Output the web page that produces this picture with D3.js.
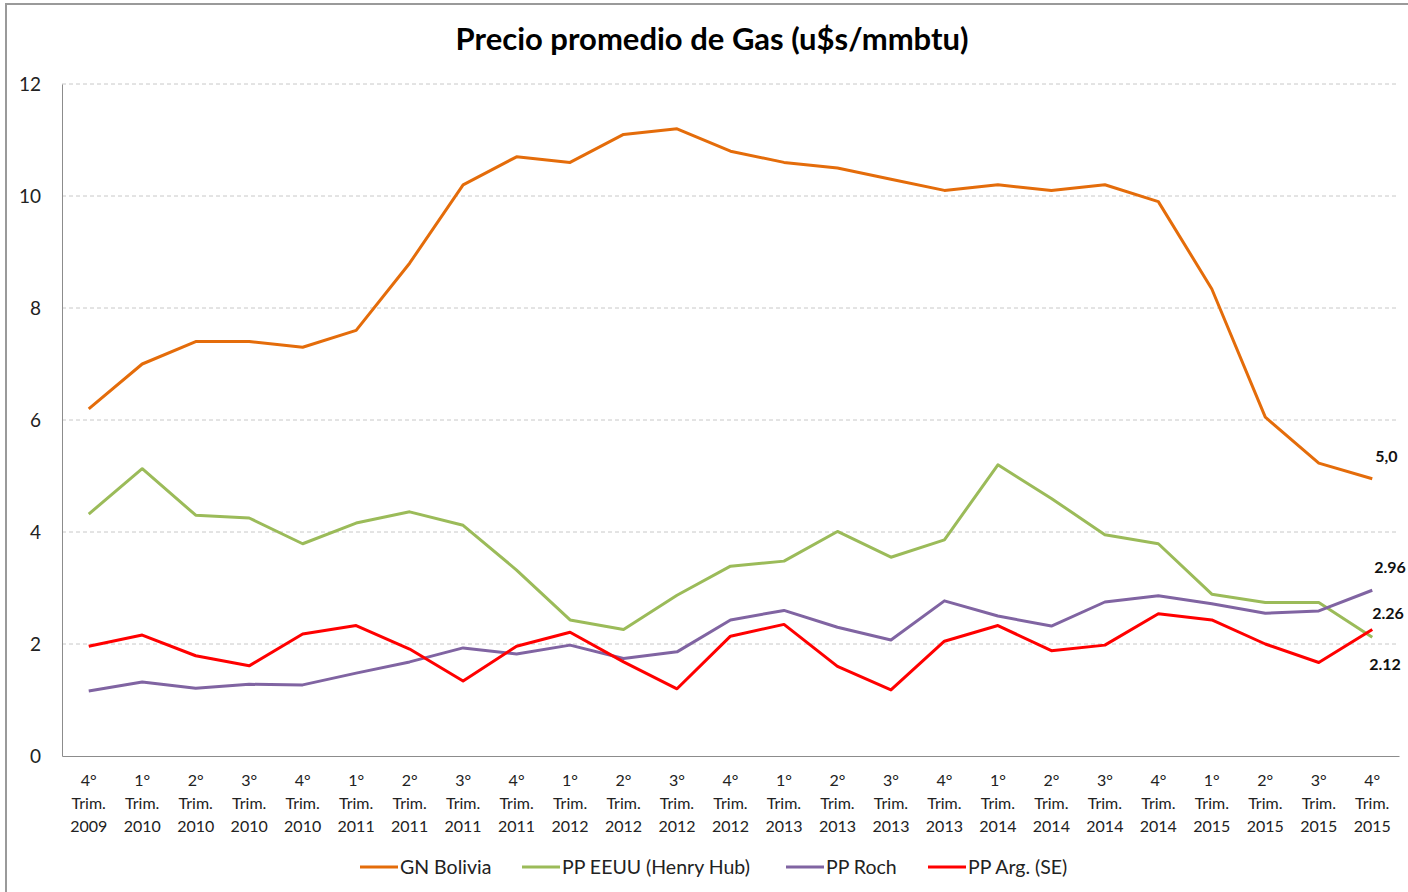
<!DOCTYPE html>
<html>
<head>
<meta charset="utf-8">
<script src="https://cdn.jsdelivr.net/npm/d3@7"></script>
<style>
  body { margin: 0; background: #fff; }
  svg { font-family: Lato, "Open Sans", sans-serif; }
</style>
</head>
<body>
<svg width="1408" height="892"></svg>
<script>
var quarters = ["4°","1°","2°","3°","4°","1°","2°","3°","4°","1°","2°","3°","4°","1°","2°","3°","4°","1°","2°","3°","4°","1°","2°","3°","4°"];
var years = ["2009","2010","2010","2010","2010","2011","2011","2011","2011","2012","2012","2012","2012","2013","2013","2013","2013","2014","2014","2014","2014","2015","2015","2015","2015"];
var categories = quarters.map(function(q, i) { return q + " Trim. " + years[i]; });

var gnBolivia = [6.2, 7.0, 7.4, 7.4, 7.3, 7.6, 8.8, 10.2, 10.7, 10.6, 11.1, 11.2, 10.8, 10.6, 10.5, 10.3, 10.1, 10.2, 10.1, 10.2, 9.9, 8.34, 6.05, 5.23, 4.95];
var ppEEUU = [4.32, 5.13, 4.30, 4.25, 3.79, 4.16, 4.36, 4.12, 3.32, 2.43, 2.26, 2.87, 3.39, 3.48, 4.01, 3.55, 3.86, 5.2, 4.6, 3.95, 3.79, 2.89, 2.74, 2.74, 2.12];
var ppRoch = [1.16, 1.32, 1.21, 1.28, 1.27, 1.48, 1.68, 1.93, 1.82, 1.98, 1.74, 1.86, 2.43, 2.60, 2.30, 2.07, 2.77, 2.50, 2.32, 2.75, 2.86, 2.72, 2.55, 2.59, 2.96];
var ppArg = [1.96, 2.16, 1.79, 1.61, 2.18, 2.33, 1.91, 1.34, 1.96, 2.21, 1.68, 1.20, 2.14, 2.35, 1.60, 1.18, 2.05, 2.33, 1.88, 1.98, 2.54, 2.43, 2.0, 1.67, 2.26];

var seriesNames = ["GN Bolivia", "PP EEUU (Henry Hub)", "PP Roch", "PP Arg. (SE)"];
var seriesColors = ["#E46C0A", "#9BBB59", "#8064A2", "#FF0000"];
var endLabels = ["5,0", "2.12", "2.96", "2.26"];
var yTicks = [0, 2, 4, 6, 8, 10, 12];

var series = [gnBolivia, ppEEUU, ppRoch, ppArg].map(function(vals, i) {
  return {name: seriesNames[i], color: seriesColors[i], label: endLabels[i], values: vals};
});

var svg = d3.select("svg");

// chart frame like the spreadsheet object
svg.append("rect")
    .attr("x", 6).attr("y", 4)
    .attr("width", 1420).attr("height", 900)
    .attr("fill", "#fff")
    .attr("stroke", "#9a9a9a")
    .attr("stroke-width", 2);

var plotLeft = 62, plotRight = 1399, plotTop = 84, plotBottom = 756;

var x = d3.scaleBand()
    .domain(categories)
    .range([plotLeft, plotRight]);

var y = d3.scaleLinear()
    .domain([0, 12])
    .range([plotBottom, plotTop]);

var cx = function(i) { return x(categories[i]) + x.bandwidth() / 2; };

// title
svg.append("text")
    .attr("x", 712).attr("y", 50)
    .attr("text-anchor", "middle")
    .attr("font-size", 31)
    .attr("font-weight", "bold")
    .text("Precio promedio de Gas (u$s/mmbtu)");

// gridlines
svg.append("g")
  .selectAll("line")
  .data(yTicks.filter(function(d) { return d > 0; }))
  .join("line")
    .attr("x1", plotLeft).attr("x2", plotRight)
    .attr("y1", function(d) { return y(d); })
    .attr("y2", function(d) { return y(d); })
    .attr("stroke", "#c8c8c8")
    .attr("stroke-dasharray", "4,3");

// y axis
var yAxis = svg.append("g")
    .attr("transform", "translate(" + plotLeft + ",0)")
    .call(d3.axisLeft(y).tickValues(yTicks).tickSize(0).tickPadding(21));
yAxis.select(".domain").attr("stroke", "#8c8c8c");
yAxis.selectAll("text").attr("font-size", 19).attr("fill", "#222").attr("font-family", "Lato, sans-serif");

// x axis
var xAxis = svg.append("g")
    .attr("transform", "translate(0," + plotBottom + ")")
    .call(d3.axisBottom(x).tickSize(0).tickFormat(""));
xAxis.select(".domain").attr("stroke", "#8c8c8c");

var xLab = svg.append("g").selectAll("text")
  .data(categories)
  .join("text")
    .attr("text-anchor", "middle")
    .attr("font-size", 16)
    .attr("fill", "#222");
xLab.append("tspan").attr("x", function(d, i) { return cx(i); }).attr("y", plotBottom + 30)
    .text(function(d, i) { return quarters[i]; });
xLab.append("tspan").attr("x", function(d, i) { return cx(i); }).attr("y", plotBottom + 53)
    .text("Trim.");
xLab.append("tspan").attr("x", function(d, i) { return cx(i); }).attr("y", plotBottom + 76)
    .text(function(d, i) { return years[i]; });

// lines
var line = d3.line()
    .x(function(d, i) { return cx(i); })
    .y(function(d) { return y(d); });

svg.append("g").selectAll("path")
  .data(series)
  .join("path")
    .attr("fill", "none")
    .attr("stroke", function(d) { return d.color; })
    .attr("stroke-width", 3)
    .attr("stroke-linejoin", "round")
    .attr("d", function(d) { return line(d.values); });

// end labels
var last = categories.length - 1;
var labelDy = [-17, 33, -17, -10];
var labelDx = [3, -3, 2, 0];
svg.append("g").selectAll("text")
  .data(series)
  .join("text")
    .attr("x", function(d, i) { return cx(last) + labelDx[i]; })
    .attr("y", function(d, i) { return y(d.values[last]) + labelDy[i]; })
    .attr("font-size", 16)
    .attr("font-weight", "bold")
    .attr("fill", "#111")
    .text(function(d) { return d.label; });

// legend
var legendX = [360, 522, 786, 928];
var legend = svg.append("g").selectAll("g")
  .data(series)
  .join("g")
    .attr("transform", function(d, i) { return "translate(" + legendX[i] + ",867)"; });
legend.append("line")
    .attr("x1", 0).attr("x2", 38)
    .attr("stroke", function(d) { return d.color; })
    .attr("stroke-width", 3);
legend.append("text")
    .attr("x", 40).attr("dy", "0.35em")
    .attr("font-size", 19.5)
    .attr("fill", "#222")
    .text(function(d) { return d.name; });
</script>
</body>
</html>
